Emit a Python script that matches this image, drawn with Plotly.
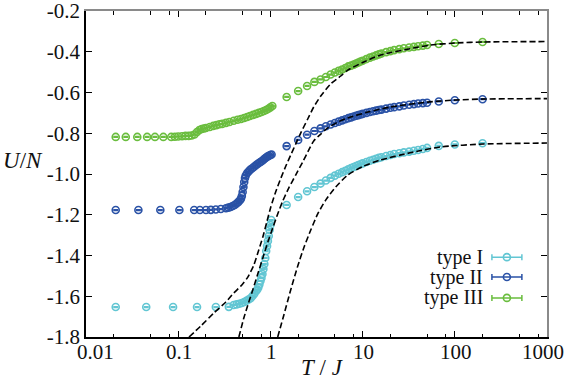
import math
import plotly.graph_objects as go

# ---------------- data ----------------
# type I (cyan) low-T part
T_I_LOW = [0.021, 0.045, 0.088, 0.16, 0.256, 0.354, 0.40, 0.43, 0.46, 0.49, 0.52, 0.55, 0.58, 0.61,
           0.64, 0.67, 0.70, 0.72, 0.74, 0.76, 0.78, 0.80, 0.82, 0.84, 0.86, 0.88, 0.90, 0.92, 0.94,
           0.96, 0.98, 1.00, 1.02]
U_I_LOW = [-1.653, -1.653, -1.653, -1.653, -1.653, -1.652, -1.643, -1.640, -1.637, -1.633, -1.628,
           -1.622, -1.616, -1.610, -1.599, -1.587, -1.574, -1.567, -1.557, -1.542, -1.525, -1.510,
           -1.491, -1.466, -1.442, -1.412, -1.378, -1.353, -1.329, -1.304, -1.275, -1.250, -1.226]

# type II (blue) low-T part
T_II_LOW = [0.021, 0.037, 0.064, 0.103, 0.149, 0.172, 0.20, 0.226, 0.256, 0.29, 0.33, 0.35, 0.37,
            0.39, 0.41, 0.43, 0.45, 0.47, 0.48, 0.49, 0.50, 0.51, 0.52, 0.53, 0.54, 0.56, 0.58, 0.60,
            0.63, 0.66, 0.69, 0.72, 0.75, 0.78, 0.81, 0.84, 0.87, 0.90, 0.93, 0.96, 1.00, 1.03]
U_II_LOW = [-1.177, -1.177, -1.177, -1.177, -1.177, -1.177, -1.177, -1.176, -1.174, -1.172, -1.168,
            -1.165, -1.162, -1.157, -1.152, -1.145, -1.137, -1.128, -1.120, -1.108, -1.088, -1.064,
            -1.039, -1.020, -1.007, -0.995, -0.988, -0.980, -0.973, -0.966, -0.958, -0.952, -0.946,
            -0.941, -0.936, -0.930, -0.924, -0.919, -0.914, -0.911, -0.907, -0.904]

# type III (green) low-T part
T_III_LOW = [0.021, 0.027, 0.036, 0.046, 0.056, 0.069, 0.084, 0.092, 0.10, 0.11, 0.12, 0.13, 0.14,
             0.15, 0.16, 0.17, 0.18, 0.19, 0.20, 0.22, 0.24, 0.26, 0.28, 0.30, 0.33, 0.36, 0.40, 0.44,
             0.48, 0.52, 0.56, 0.60, 0.65, 0.70, 0.75, 0.80, 0.85, 0.90, 0.95, 1.00, 1.05]
U_III_LOW = [-0.818, -0.818, -0.818, -0.818, -0.818, -0.818, -0.818, -0.817, -0.816, -0.815, -0.813,
             -0.813, -0.811, -0.806, -0.794, -0.784, -0.779, -0.777, -0.774, -0.769, -0.764, -0.760,
             -0.756, -0.754, -0.749, -0.745, -0.739, -0.734, -0.730, -0.725, -0.720, -0.715, -0.710,
             -0.705, -0.700, -0.696, -0.691, -0.686, -0.680, -0.673, -0.666]

# high-T part, common temperatures
T_HIGH = [1.5, 2, 2.5, 3, 3.5, 4, 4.5, 5, 5.5, 6, 6.5, 7, 7.5, 8, 8.5, 9, 9.5, 10, 11, 12, 13, 14,
          15, 16, 18, 20, 22, 25, 28, 32, 36, 40, 45, 50, 67, 100, 200]
U_I_HIGH = [-1.152, -1.113, -1.085, -1.064, -1.047, -1.032, -1.019, -1.008, -0.999, -0.991, -0.984,
            -0.977, -0.971, -0.966, -0.961, -0.956, -0.952, -0.948, -0.941, -0.935, -0.930, -0.925,
            -0.921, -0.918, -0.912, -0.907, -0.902, -0.898, -0.894, -0.890, -0.886, -0.882, -0.877,
            -0.872, -0.862, -0.855, -0.849]
U_II_HIGH = [-0.863, -0.833, -0.807, -0.789, -0.776, -0.766, -0.757, -0.750, -0.743, -0.737, -0.731,
             -0.726, -0.722, -0.718, -0.714, -0.711, -0.708, -0.705, -0.700, -0.696, -0.692, -0.689,
             -0.686, -0.684, -0.679, -0.675, -0.672, -0.668, -0.664, -0.660, -0.657, -0.654, -0.652,
             -0.650, -0.644, -0.638, -0.633]
U_III_HIGH = [-0.622, -0.593, -0.568, -0.548, -0.536, -0.524, -0.512, -0.502, -0.494, -0.487, -0.480,
              -0.472, -0.468, -0.463, -0.458, -0.453, -0.448, -0.444, -0.436, -0.429, -0.423, -0.418,
              -0.413, -0.409, -0.402, -0.397, -0.392, -0.387, -0.383, -0.379, -0.376, -0.373, -0.370,
              -0.367, -0.362, -0.357, -0.352]

# dashed high-temperature curves
T_DASH_I = [1.20, 1.40, 1.66, 1.98, 2.30, 2.74, 3.26, 3.98, 5.11, 6.90, 10.3, 15.7, 35.8, 70.2, 205, 1000]
U_DASH_I = [-1.80, -1.692, -1.569, -1.452, -1.363, -1.275, -1.196, -1.128, -1.064, -1.005, -0.961,
            -0.931, -0.892, -0.867, -0.853, -0.848]
T_DASH_II = [0.455, 0.515, 0.569, 0.644, 0.729, 0.828, 0.938, 1.06, 1.20, 1.36, 1.58, 1.88, 2.24, 2.61,
             2.95, 3.52, 4.19, 5.38, 6.90, 11.4, 20.2, 50.7, 102, 205, 1000]
U_DASH_II = [-1.80, -1.707, -1.643, -1.569, -1.491, -1.412, -1.334, -1.265, -1.196, -1.133, -1.069,
             -1.005, -0.941, -0.882, -0.838, -0.804, -0.774, -0.745, -0.725, -0.696, -0.671, -0.647,
             -0.637, -0.632, -0.630]
T_DASH_III = [0.131, 0.176, 0.244, 0.329, 0.401, 0.49, 0.569, 0.661, 0.748, 0.828, 0.914, 1.01, 1.14,
              1.30, 1.47, 1.66, 1.88, 2.13, 2.54, 2.95, 3.52, 4.51, 5.79, 6.90, 10.3, 15.7, 35.8, 54.7,
              102, 205, 1000]
U_DASH_III = [-1.80, -1.746, -1.682, -1.628, -1.584, -1.545, -1.506, -1.447, -1.373, -1.309, -1.236,
              -1.162, -1.088, -1.020, -0.961, -0.907, -0.853, -0.799, -0.730, -0.671, -0.617, -0.558,
              -0.519, -0.490, -0.450, -0.416, -0.382, -0.367, -0.357, -0.352, -0.350]

NAMES = ["type I", "type II", "type III"]
COLORS = ["#62c6d3", "#2a52a6", "#6abd3e"]

X_TICKS = [0.01, 0.1, 1, 10, 100, 1000]
X_TICKTEXT = ["0.01", "0.1", "1", "10", "100", "1000"]
X_MINOR = [0.02, 0.05, 0.08, 0.2, 0.5, 0.8, 2, 5, 8, 20, 50, 80, 200, 500, 800]
Y_TICKS = [-1.8, -1.6, -1.4, -1.2, -1.0, -0.8, -0.6, -0.4, -0.2]
Y_TICKTEXT = ["-1.8", "-1.6", "-1.4", "-1.2", "-1.0", "-0.8", "-0.6", "-0.4", "-0.2"]

FONT = "Liberation Serif"

fig = go.Figure()

series = [
    (T_I_LOW + T_HIGH, U_I_LOW + U_I_HIGH),
    (T_II_LOW + T_HIGH, U_II_LOW + U_II_HIGH),
    (T_III_LOW + T_HIGH, U_III_LOW + U_III_HIGH),
]
for (tx, uy), name, col in zip(series, NAMES, COLORS):
    fig.add_trace(go.Scatter(
        x=tx, y=uy, mode="markers", name=name, showlegend=False,
        marker=dict(symbol="circle-open", size=7, color=col, line=dict(width=1.6)),
        error_y=dict(type="constant", value=0.0025, width=2.5, thickness=1.2, color=col),
    ))

# dashed curves on top of the markers
for tx, uy in [(T_DASH_I, U_DASH_I), (T_DASH_II, U_DASH_II), (T_DASH_III, U_DASH_III)]:
    fig.add_trace(go.Scatter(
        x=tx, y=uy, mode="lines", showlegend=False, hoverinfo="skip",
        line=dict(color="black", width=1.6, dash="6px,3px", shape="spline", smoothing=0.6),
    ))

# empty trace so the mirrored (top / right) axes are drawn
fig.add_trace(go.Scatter(x=[], y=[], xaxis="x2", yaxis="y2", showlegend=False))

# hand-made key: text on the left, symbol with error bar on the right
key_y = [0.245, 0.184, 0.120]
for name, col, ky in zip(NAMES, COLORS, key_y):
    fig.add_trace(go.Scatter(
        x=[0.913], y=[ky], xaxis="x3", yaxis="y3", mode="markers", showlegend=False,
        marker=dict(symbol="circle-open", size=7, color=col, line=dict(width=1.6)),
        error_x=dict(type="constant", value=0.0325, width=3, thickness=1.5, color=col),
    ))
    fig.add_annotation(x=0.866, y=ky, xref="paper", yref="paper", text=name, showarrow=False,
                       xanchor="right", yanchor="middle",
                       font=dict(family=FONT, size=20, color="#111"))

common_x = dict(type="log", range=[-2, 3.0], tickvals=X_TICKS, ticks="inside", ticklen=6,
                tickwidth=1, tickcolor="black", showgrid=False, zeroline=False, automargin=False,
                showticklabels=False,
                minor=dict(tickvals=X_MINOR, ticks="inside", ticklen=3.5, tickcolor="black",
                           showgrid=False))
common_y = dict(range=[-1.8, -0.2], tickvals=Y_TICKS, ticks="inside", ticklen=6, tickwidth=1,
                tickcolor="black", showgrid=False, zeroline=False, automargin=False,
                ticklabeloverflow="allow")

fig.update_layout(
    width=566, height=386,
    margin=dict(l=86, r=19, t=11, b=49),
    paper_bgcolor="white", plot_bgcolor="white",
    showlegend=False,
    xaxis=dict(**common_x, showline=True, linecolor="black", linewidth=1.5),
    yaxis=dict(**common_y, ticktext=Y_TICKTEXT, showline=True, linecolor="black", linewidth=1.5,
               tickfont=dict(family=FONT, size=21, color="#111")),
    xaxis2=dict(**common_x, overlaying="x", side="top", anchor="y2",
                showline=True, linecolor="#8a8a8a", linewidth=2),
    yaxis2=dict(**common_y, overlaying="y", side="right", anchor="x2", showticklabels=False,
                showline=True, linecolor="#8a8a8a", linewidth=2),
    xaxis3=dict(range=[0, 1], overlaying="x", anchor="y3", visible=False, automargin=False),
    yaxis3=dict(range=[0, 1], overlaying="y", anchor="x3", visible=False, automargin=False),
)

# x tick labels as text, nudged like the original (edge labels pulled inwards)
x_shift = [9, 1, 1.5, 1, 1, -4]
for v, t, s in zip(X_TICKS, X_TICKTEXT, x_shift):
    fig.add_annotation(x=math.log10(v), y=0, xref="x", yref="paper", text=t, showarrow=False,
                       xanchor="center", yanchor="top", xshift=s, yshift=-1,
                       font=dict(family=FONT, size=21, color="#111"))

fig.add_annotation(x=-0.137, y=0.54, xref="paper", yref="paper", text="<i>U</i>/<i>N</i>",
                   showarrow=False, xanchor="center", yanchor="middle",
                   font=dict(family=FONT, size=23, color="#111"))
fig.add_annotation(x=0.514, y=-0.095, xref="paper", yref="paper", text="<i>T</i> / <i>J</i>",
                   showarrow=False, xanchor="center", yanchor="middle",
                   font=dict(family=FONT, size=23, color="#111"))

# the page's default body margin would shift the figure by 8 px
fig.write_html("out.html", config={"displayModeBar": False},
               post_script="document.body.style.margin='0px';")
